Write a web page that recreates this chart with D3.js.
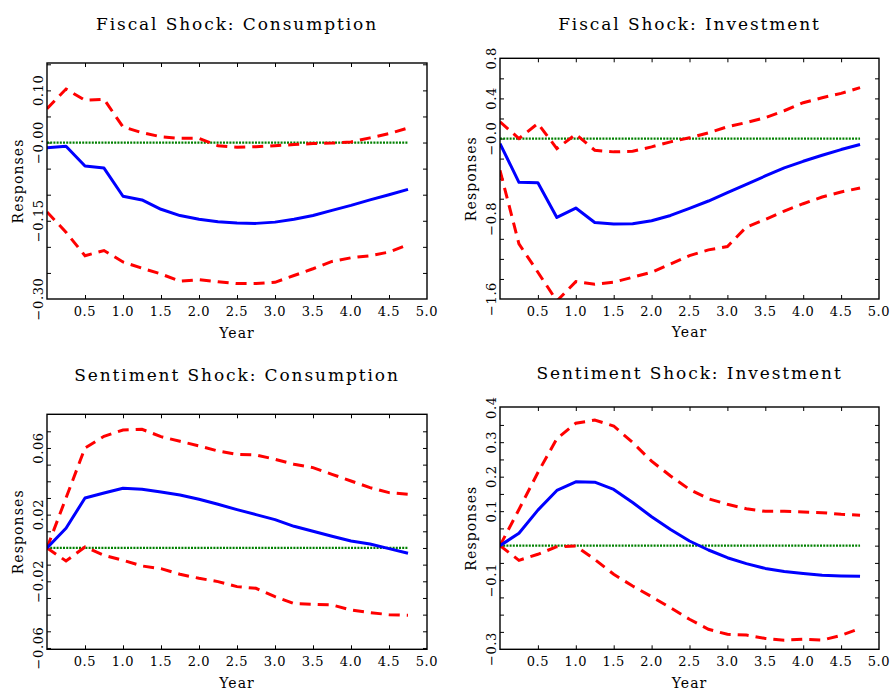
<!DOCTYPE html>
<html>
<head>
<meta charset="utf-8">
<script src="https://cdn.jsdelivr.net/npm/d3@7"></script>
<style>
  html, body { margin: 0; padding: 0; background: #fff; }
  svg { display: block; }
  text { font-family: "DejaVu Serif", serif; fill: #000; }
</style>
</head>
<body>
<svg id="chart" width="894" height="692"></svg>
<script>
// Horizon in years (quarterly steps)
const years = [0, 0.25, 0.5, 0.75, 1.0, 1.25, 1.5, 1.75, 2.0, 2.25, 2.5, 2.75,
               3.0, 3.25, 3.5, 3.75, 4.0, 4.25, 4.5, 4.75];

// Fiscal shock: consumption
const fcMedian = [-0.010, -0.007, -0.045, -0.049, -0.103, -0.110, -0.128, -0.140, -0.147, -0.152,
                  -0.1545, -0.155, -0.1526, -0.147, -0.140, -0.130, -0.1205, -0.110, -0.100, -0.0897];
const fcUpper  = [0.065, 0.1026, 0.081, 0.083, 0.030, 0.019, 0.011, 0.008, 0.008, -0.006,
                  -0.009, -0.008, -0.006, -0.004, -0.002, -0.001, 0.001, 0.009, 0.017, 0.028];
const fcLower  = [-0.133, -0.172, -0.217, -0.207, -0.229, -0.241, -0.252, -0.266, -0.263, -0.267,
                  -0.2705, -0.2705, -0.268, -0.255, -0.242, -0.228, -0.221, -0.217, -0.210, -0.196];

// Fiscal shock: investment
const fiMedian = [-0.05, -0.437, -0.44, -0.787, -0.693, -0.837, -0.853, -0.85, -0.82, -0.767,
                  -0.697, -0.623, -0.54, -0.457, -0.373, -0.293, -0.227, -0.167, -0.11, -0.06];
const fiUpper  = [0.167, 0.0, 0.15, -0.1, 0.043, -0.117, -0.133, -0.127, -0.083, -0.033,
                  0.007, 0.057, 0.117, 0.16, 0.207, 0.277, 0.357, 0.407, 0.45, 0.507];
const fiLower  = [-0.317, -1.05, -1.333, -1.62, -1.427, -1.453, -1.433, -1.383, -1.333, -1.25,
                  -1.167, -1.11, -1.077, -0.883, -0.807, -0.723, -0.65, -0.583, -0.533, -0.493];

// Sentiment shock: consumption
const scMedian = [0.0, 0.0118, 0.030, 0.033, 0.0358, 0.0352, 0.0336, 0.0318, 0.0292, 0.0262,
                  0.023, 0.020, 0.017, 0.013, 0.010, 0.007, 0.0042, 0.0024, -0.0004, -0.0032];
const scUpper  = [0.0, 0.030, 0.060, 0.067, 0.0708, 0.0712, 0.0668, 0.064, 0.0612, 0.0582,
                  0.0562, 0.0558, 0.0532, 0.0502, 0.0482, 0.0442, 0.0402, 0.0362, 0.0332, 0.0322];
const scLower  = [0.0, -0.0078, 0.0006, -0.0044, -0.0074, -0.0108, -0.0124, -0.0158, -0.0182, -0.0202,
                  -0.0232, -0.0242, -0.0292, -0.0334, -0.0338, -0.0342, -0.0372, -0.0388, -0.040, -0.0404];

// Sentiment shock: investment
const siMedian = [0.0, 0.036, 0.103, 0.160, 0.185, 0.184, 0.163, 0.125, 0.084, 0.047,
                  0.0135, -0.0126, -0.035, -0.052, -0.066, -0.075, -0.081, -0.086, -0.088, -0.089];
const siUpper  = [0.0, 0.105, 0.212, 0.310, 0.355, 0.364, 0.347, 0.299, 0.245, 0.202,
                  0.163, 0.136, 0.12, 0.107, 0.0995, 0.0995, 0.0976, 0.0957, 0.091, 0.088];
const siLower  = [0.0, -0.0425, -0.025, -0.003, -0.001, -0.040, -0.083, -0.117, -0.148, -0.18,
                  -0.2135, -0.2425, -0.257, -0.259, -0.269, -0.274, -0.2715, -0.274, -0.26, -0.24];

// Axis ticks and labels
const xTickValues = [0.5, 1.0, 1.5, 2.0, 2.5, 3.0, 3.5, 4.0, 4.5];
const xLabelValues = [0.5, 1.0, 1.5, 2.0, 2.5, 3.0, 3.5, 4.0, 4.5, 5.0];
const xLabelText = ["0.5", "1.0", "1.5", "2.0", "2.5", "3.0", "3.5", "4.0", "4.5", "5.0"];

const fcYLabelValues = [0.10, 0.0, -0.15, -0.30];
const fcYLabelText = ["0.10", "\u22120.00", "\u22120.15", "\u22120.30"];
const fiYLabelValues = [0.8, 0.4, 0.0, -0.8, -1.6];
const fiYLabelText = ["0.8", "0.4", "\u22120.0", "\u22120.8", "\u22121.6"];
const scYLabelValues = [0.06, 0.02, -0.02, -0.06];
const scYLabelText = ["0.06", "0.02", "\u22120.02", "\u22120.06"];
const siYLabelValues = [0.4, 0.3, 0.2, 0.1, -0.1, -0.3];
const siYLabelText = ["0.4", "0.3", "0.2", "0.1", "\u22120.1", "\u22120.3"];

const svg = d3.select("#chart");

const panels = [
  { id: "fc", title: "Fiscal Shock: Consumption", left: 47, right: 427, top: 63, bottom: 299,
    yDomain: [-0.30, 0.1525], yStep: 0.05, median: fcMedian, upper: fcUpper, lower: fcLower,
    yLabelValues: fcYLabelValues, yLabelText: fcYLabelText, titleY: 30 },
  { id: "fi", title: "Fiscal Shock: Investment", left: 500, right: 879, top: 58.3, bottom: 299,
    yDomain: [-1.6, 0.8], yStep: 0.2, median: fiMedian, upper: fiUpper, lower: fiLower,
    yLabelValues: fiYLabelValues, yLabelText: fiYLabelText, titleY: 30 },
  { id: "sc", title: "Sentiment Shock: Consumption", left: 47, right: 427, top: 414.3, bottom: 649.3,
    yDomain: [-0.0608, 0.0802], yStep: 0.01, median: scMedian, upper: scUpper, lower: scLower,
    yLabelValues: scYLabelValues, yLabelText: scYLabelText, titleY: 381 },
  { id: "si", title: "Sentiment Shock: Investment", left: 500, right: 879, top: 407, bottom: 649.3,
    yDomain: [-0.3005, 0.402], yStep: 0.05, median: siMedian, upper: siUpper, lower: siLower,
    yLabelValues: siYLabelValues, yLabelText: siYLabelText, titleY: 379 }
];

panels.forEach(p => {
  const w = p.right - p.left, h = p.bottom - p.top;
  const x = d3.scaleLinear().domain([0, 5]).range([0, w]);
  const y = d3.scaleLinear().domain(p.yDomain).range([h, 0]);
  const g = svg.append("g").attr("transform", `translate(${p.left},${p.top})`);

  // minor y ticks at every step inside the domain
  const k0 = Math.ceil(p.yDomain[0] / p.yStep - 1e-6), k1 = Math.floor(p.yDomain[1] / p.yStep + 1e-6);
  const yTicks = d3.range(k0, k1 + 1).map(k => +(k * p.yStep).toFixed(6))
    .filter(v => Math.abs(y(v) - 0) > 1 && Math.abs(y(v) - h) > 1);

  const clipId = "clip-" + p.id;
  g.append("clipPath").attr("id", clipId)
    .append("rect").attr("x", 0).attr("y", 0).attr("width", w).attr("height", h);

  // inward ticks on all four sides
  const tk = 4;
  const axes = [
    d3.axisBottom(x).tickValues(xTickValues).tickSize(-tk).tickFormat(""),
    d3.axisTop(x).tickValues(xTickValues).tickSize(-tk).tickFormat(""),
    d3.axisLeft(y).tickValues(yTicks).tickSize(-tk).tickFormat(""),
    d3.axisRight(y).tickValues(yTicks).tickSize(-tk).tickFormat("")
  ];
  const offsets = [[0, h], [0, 0], [0, 0], [w, 0]];
  axes.forEach((ax, i) => {
    const a = g.append("g").attr("transform", `translate(${offsets[i][0]},${offsets[i][1]})`).call(ax);
    a.select(".domain").remove();
    a.selectAll(".tick line").attr("stroke", "#000").attr("stroke-width", 1);
  });

  // data lines
  const line = d3.line().x((d, i) => x(years[i])).y(d => y(d));
  const lines = g.append("g").attr("clip-path", `url(#${clipId})`);

  lines.append("path").datum(years.map(() => 0))
    .attr("d", line).attr("fill", "none").attr("stroke", "#008000")
    .attr("stroke-width", 2.2).attr("stroke-dasharray", "2 1.2");

  [p.upper, p.lower].forEach(series => {
    lines.append("path").datum(series)
      .attr("d", line).attr("fill", "none").attr("stroke", "#ff0000")
      .attr("stroke-width", 3).attr("stroke-dasharray", "11 7");
  });

  lines.append("path").datum(p.median)
    .attr("d", line).attr("fill", "none").attr("stroke", "#0000ff")
    .attr("stroke-width", 3).attr("stroke-linejoin", "round");

  // frame
  g.append("rect").attr("x", 0).attr("y", 0).attr("width", w).attr("height", h)
    .attr("fill", "none").attr("stroke", "#000").attr("stroke-width", 1.4);

  // x tick labels
  g.append("g").selectAll("text").data(xLabelValues).join("text")
    .attr("x", d => x(d)).attr("y", h + 17)
    .attr("text-anchor", "middle").attr("font-size", 13).attr("letter-spacing", 0.6)
    .text((d, i) => xLabelText[i]);

  // y tick labels, rotated
  g.append("g").selectAll("text").data(p.yLabelValues).join("text")
    .attr("transform", d => `translate(-4,${y(d)}) rotate(-90)`)
    .attr("text-anchor", "middle").attr("font-size", 13).attr("letter-spacing", 0.6)
    .text((d, i) => p.yLabelText[i]);

  // axis titles
  g.append("text").attr("x", w / 2).attr("y", h + 38.5)
    .attr("text-anchor", "middle").attr("font-size", 14).attr("letter-spacing", 1.1)
    .text("Year");
  g.append("text").attr("transform", `translate(-24.5,${h / 2}) rotate(-90)`)
    .attr("text-anchor", "middle").attr("font-size", 14).attr("letter-spacing", 1.1)
    .text("Responses");

  // panel title
  svg.append("text").attr("x", p.left + w / 2).attr("y", p.titleY)
    .attr("text-anchor", "middle").attr("font-size", 17).attr("letter-spacing", 1.9)
    .text(p.title);
});
</script>
</body>
</html>
